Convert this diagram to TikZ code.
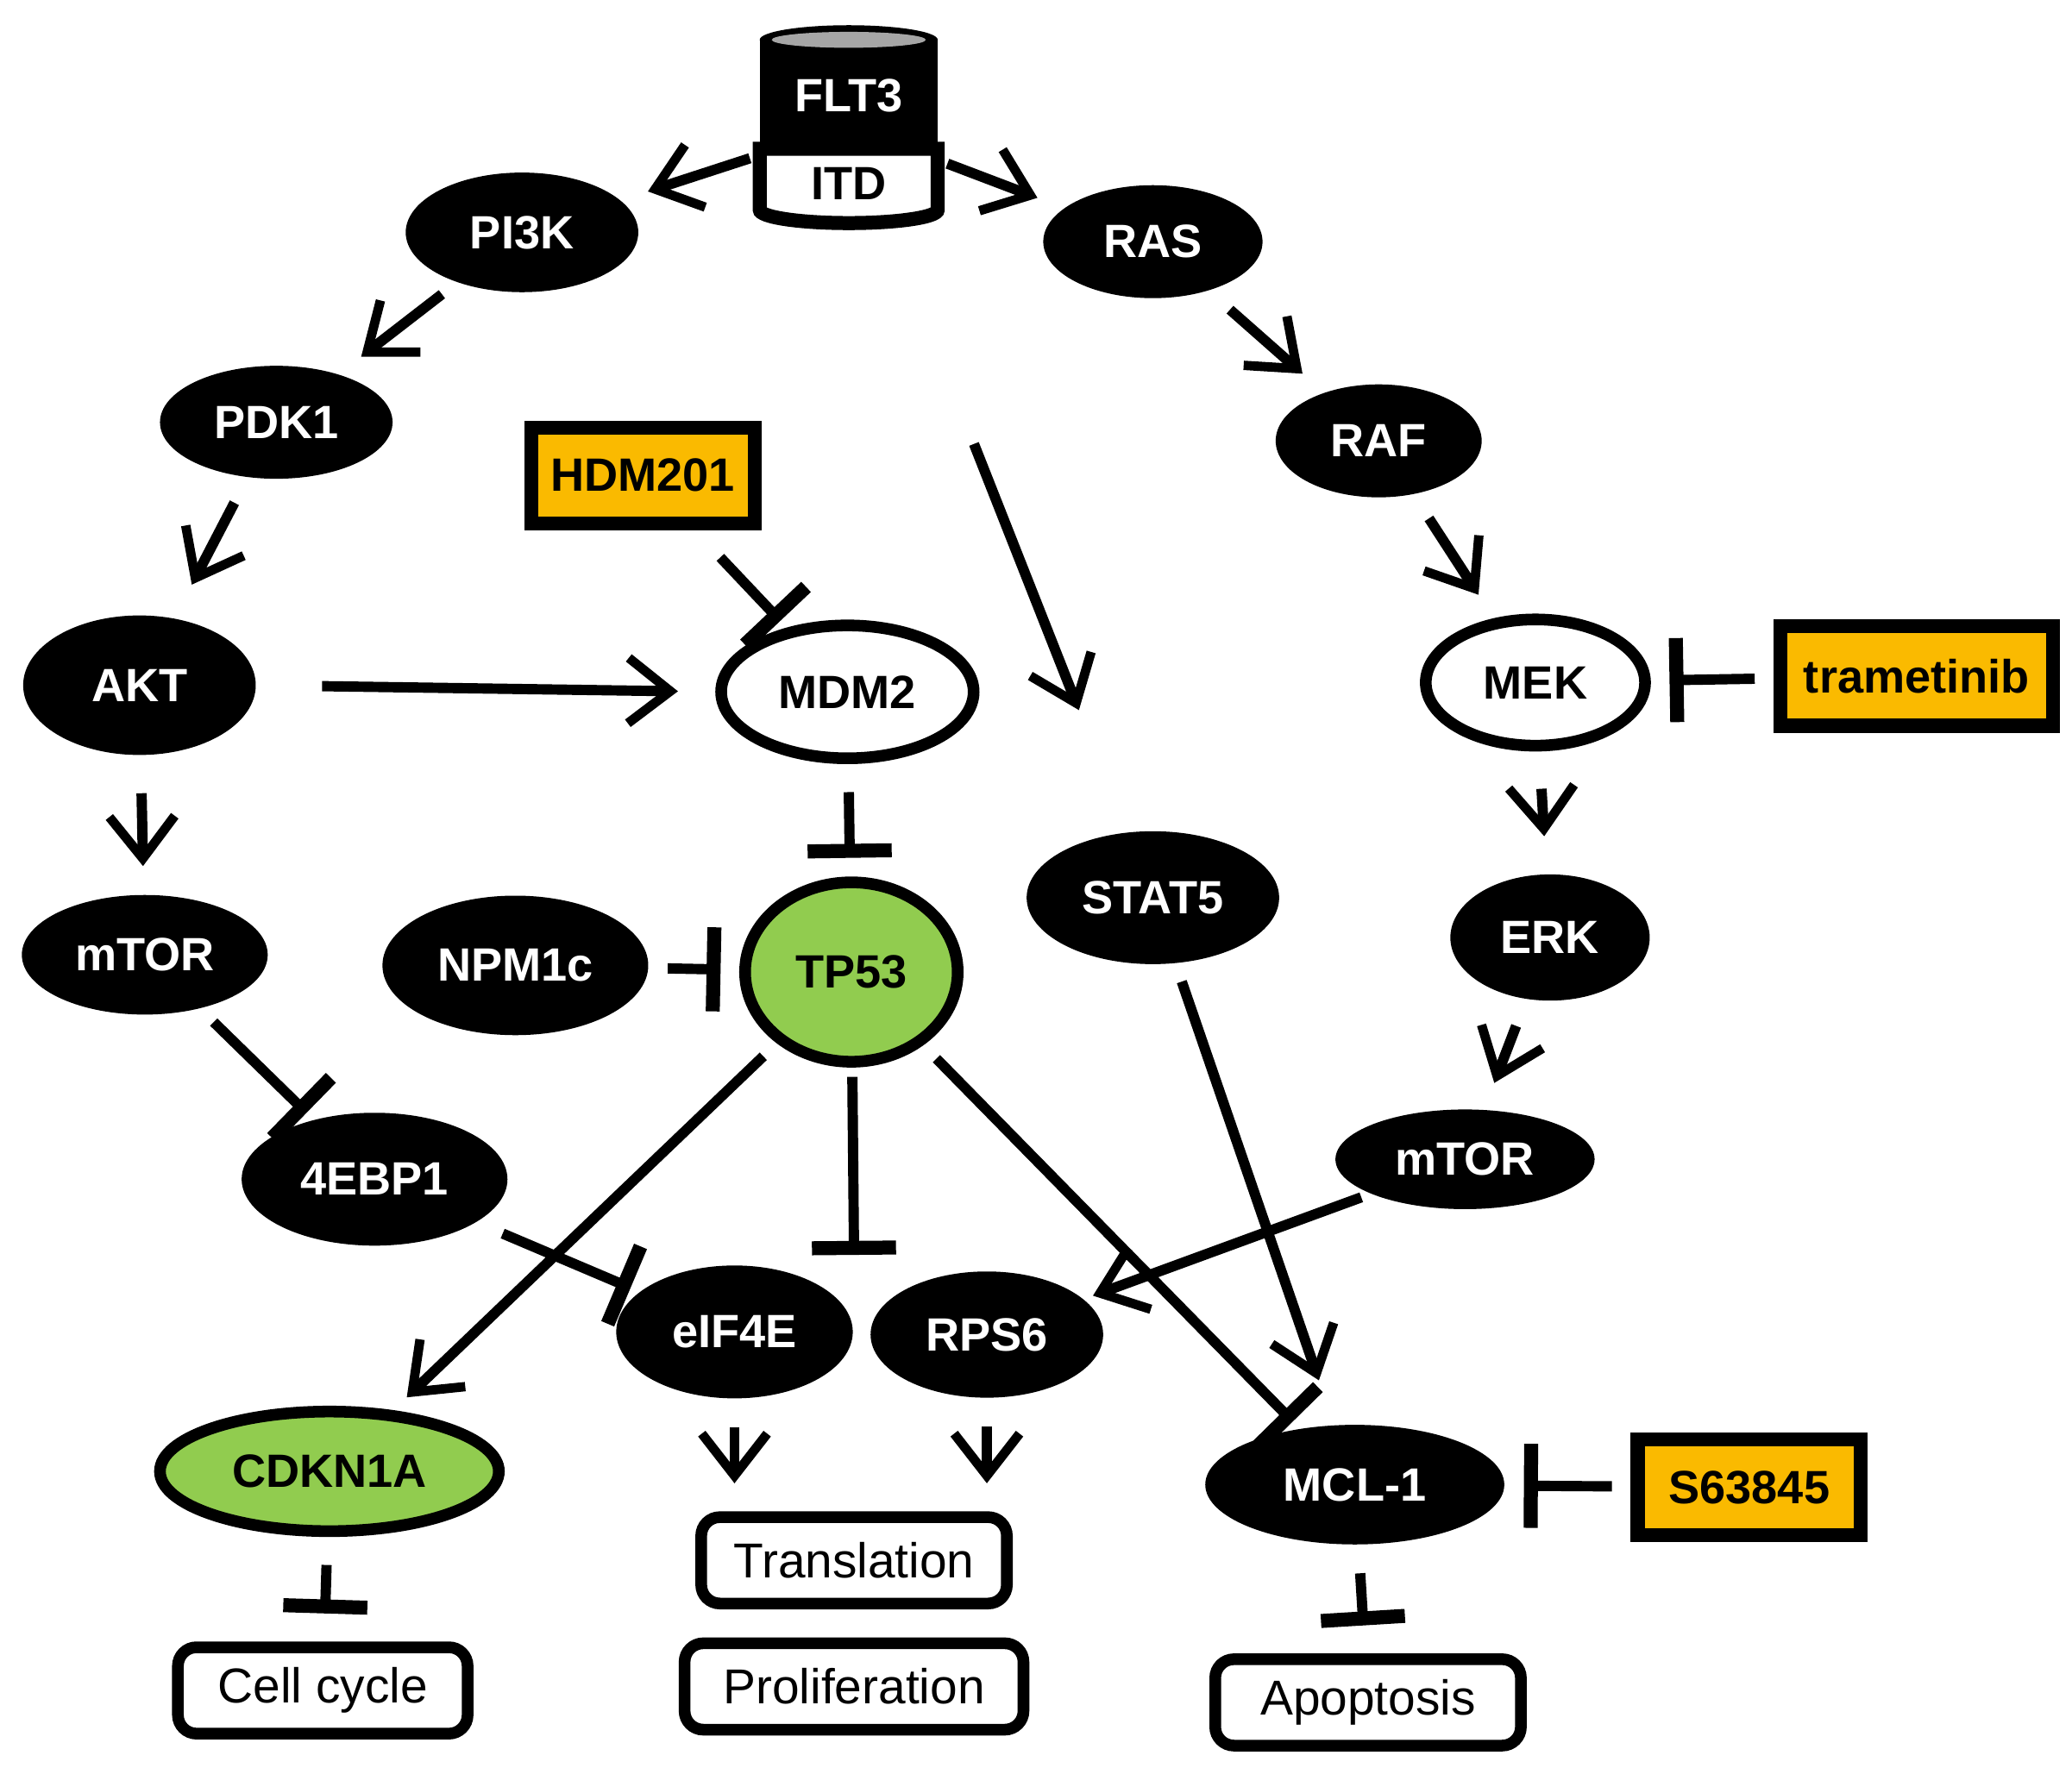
\documentclass[tikz,border=0pt]{standalone}
\usepackage{fontspec}
\setmainfont{Liberation Sans}
\usetikzlibrary{shapes.geometric, arrows.meta}
\definecolor{drug}{rgb}{0.98, 0.73, 0.0}
\definecolor{green53}{rgb}{0.57, 0.80, 0.31}
\tikzset{
  ell/.style={ellipse,fill=black,text=white,font=\bfseries,inner sep=0pt},
  open/.style={ellipse,draw,line width=2.5pt,fill=white,font=\bfseries,inner sep=0pt},
  gene/.style={ellipse,draw,line width=2.5pt,fill=green53,font=\bfseries,inner sep=0pt},
  drugbox/.style={rectangle,draw,line width=3pt,fill=drug,font=\bfseries,inner sep=0pt},
  outbox/.style={rectangle,draw,rounded corners=4pt,line width=2.5pt,fill=white,inner sep=0pt},
  arr/.style={-{Straight Barb[length=9pt,width=14pt,line width=2pt]},line width=2.2pt},
  inh/.style={-{Bar[width=18pt,line width=3pt]},line width=2.2pt}
}
\begin{document}
\begin{tikzpicture}[x=0.01cm,y=-0.01cm,font=\fontsize{10.5}{12}\selectfont]
\useasboundingbox (0,0) rectangle (1560,1331);
% FLT3 receptor
\fill[black] (572,112) rectangle (706,30);
\fill[black] (639,30) ellipse [x radius=67,y radius=11];
\fill[gray!70] (639,30) ellipse [x radius=58,y radius=6];
\draw[line width=3pt,fill=white] (572,112) -- (572,158) arc[start angle=180,end angle=0,x radius=67,y radius=10] -- (706,112) -- cycle;
\fill[black] (570,108) rectangle (708,116);
\node[text=white,font=\bfseries] at (639,72) {FLT3};
\node[font=\bfseries] at (639,138) {ITD};
\node[minimum width=1.34cm,minimum height=1.5cm] (flt) at (639,95) {};
% nodes
\node[ell,minimum width=1.75cm,minimum height=0.9cm] (pi3k) at (393,175) {PI3K};
\node[ell,minimum width=1.65cm,minimum height=0.85cm] (ras) at (868,182) {RAS};
\node[ell,minimum width=1.75cm,minimum height=0.85cm] (pdk) at (208,318) {PDK1};
\node[drugbox,minimum width=1.68cm,minimum height=0.72cm] (hdm) at (484,358) {HDM201};
\node[ell,minimum width=1.55cm,minimum height=0.85cm] (raf) at (1038,332) {RAF};
\node[ell,minimum width=1.75cm,minimum height=1.05cm] (akt) at (105,516) {AKT};
\node[open,minimum width=1.9cm,minimum height=1.0cm] (mdm) at (638,521) {MDM2};
\node[open,minimum width=1.65cm,minimum height=0.95cm] (mek) at (1156,514) {MEK};
\node[drugbox,minimum width=2.05cm,minimum height=0.75cm] (tram) at (1443,509) {trametinib};
\node[ell,minimum width=1.9cm,minimum height=1.0cm] (stat) at (868,676) {STAT5};
\node[ell,minimum width=1.85cm,minimum height=0.9cm] (mtorl) at (109,719) {mTOR};
\node[ell,minimum width=2.0cm,minimum height=1.05cm] (npm) at (388,727) {NPM1c};
\node[gene,minimum width=1.6cm,minimum height=1.35cm] (tp) at (641,732) {TP53};
\node[ell,minimum width=1.5cm,minimum height=0.95cm] (erk) at (1167,706) {ERK};
\node[ell,minimum width=2.0cm,minimum height=1.0cm] (ebp) at (282,888) {4EBP1};
\node[ell,minimum width=1.95cm,minimum height=0.75cm] (mtorr) at (1103,873) {mTOR};
\node[ell,minimum width=1.78cm,minimum height=1.0cm] (eif) at (553,1003) {eIF4E};
\node[ell,minimum width=1.75cm,minimum height=0.95cm] (rps) at (743,1005) {RPS6};
\node[gene,minimum width=2.55cm,minimum height=0.9cm] (cdk) at (248,1108) {CDKN1A};
\node[ell,minimum width=2.25cm,minimum height=0.9cm] (mcl) at (1020,1118) {MCL-1};
\node[drugbox,minimum width=1.68cm,minimum height=0.72cm] (smol) at (1317,1120) {S63845};
\node[outbox,minimum width=2.3cm,minimum height=0.65cm] (trans) at (643,1175) {Translation};
\node[outbox,minimum width=2.55cm,minimum height=0.65cm] (prol) at (643,1270) {Proliferation};
\node[outbox,minimum width=2.18cm,minimum height=0.65cm] (cell) at (243,1273) {Cell cycle};
\node[outbox,minimum width=2.3cm,minimum height=0.65cm] (apo) at (1030,1282) {Apoptosis};
\coordinate (tpbar) at (643,945);
% connectors
\draw[arr,shorten <=2pt,shorten >=6pt] (flt) -- (pi3k);
\draw[arr,shorten <=2pt,shorten >=6pt] (flt) -- (ras);
\draw[arr,shorten <=50pt,shorten >=28pt] (flt) -- (stat);
\draw[arr,shorten <=4pt,shorten >=6pt] (pi3k) -- (pdk);
\draw[arr,shorten <=6pt,shorten >=8pt] (pdk) -- (akt);
\draw[arr,shorten <=6pt,shorten >=6pt] (ras) -- (raf);
\draw[arr,shorten <=6pt,shorten >=6pt] (raf) -- (mek);
\draw[arr,shorten <=14pt,shorten >=8pt] (akt.east) -- (mdm.west);
\draw[arr,shorten <=8pt,shorten >=6pt] (akt) -- (mtorl);
\draw[arr,shorten <=8pt,shorten >=8pt] (mek) -- (erk);
\draw[arr,shorten <=6pt,shorten >=6pt] (erk) -- (mtorr);
\draw[inh,shorten <=8pt,shorten >=2pt] (hdm) -- (mdm);
\draw[inh,shorten <=6pt,shorten >=4pt] (mdm) -- (tp);
\draw[inh,shorten <=4pt,shorten >=4pt] (tram) -- (mek);
\draw[inh,shorten <=4pt,shorten >=4pt] (npm) -- (tp);
\draw[inh,shorten <=4pt,shorten >=2pt] (mtorl) -- (ebp);
\draw[inh,shorten <=2pt] (tp) -- (tpbar);
\draw[arr,shorten <=4pt,shorten >=4pt] (tp) -- (cdk);
\draw[inh,shorten <=4pt,shorten >=2pt] (tp) -- (mcl);
\draw[inh,shorten <=6pt,shorten >=2pt] (ebp) -- (eif);
\draw[arr,shorten <=2pt,shorten >=2pt] (mtorr) -- (rps);
\draw[arr,shorten <=4pt,shorten >=10pt] (stat) -- (mcl);
\draw[arr,shorten <=6pt,shorten >=6pt] (eif.south) -- (eif.south |- trans.north);
\draw[arr,shorten <=6pt,shorten >=6pt] (rps.south) -- (rps.south |- trans.north);
\draw[inh,shorten <=6pt,shorten >=6pt] (cdk) -- (cell);
\draw[inh,shorten <=6pt,shorten >=6pt] (mcl) -- (apo);
\draw[inh,shorten <=4pt,shorten >=4pt] (smol) -- (mcl);
\end{tikzpicture}
\end{document}
